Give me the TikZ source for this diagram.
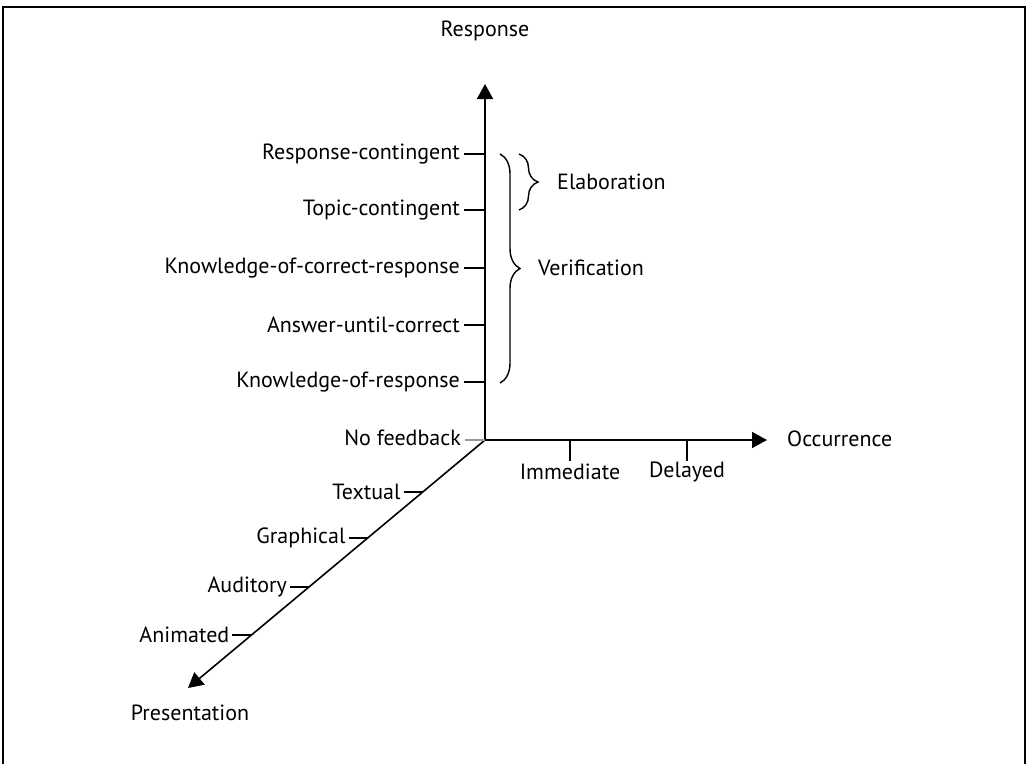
\documentclass[tikz,border=0pt]{standalone}
\usepackage{fontspec}
\setmainfont{PT Sans}
\usetikzlibrary{arrows.meta,decorations.pathreplacing,calc}
\begin{document}
\begin{tikzpicture}[x=1pt,y=-1pt,
  axis/.style={line width=1.6pt,-{Triangle[length=15pt,width=16pt]}},
  tickline/.style={line width=1.6pt},
  greytick/.style={line width=1.6pt,draw=black!40},
  lab/.style={font=\fontsize{22}{26}\selectfont,inner sep=0pt},
  bracepath/.style={line width=1.4pt,decorate},
  frameline/.style={line width=2pt}]
\useasboundingbox (0,0) rectangle (1027,763);
\draw[frameline] (3,770) -- (3,7) -- (1025,7) -- (1025,770);
% axes
\coordinate (O) at (485,440);
\coordinate (ytip) at (485,84);
\coordinate (xtip) at (767,440);
\coordinate (ztip) at (188,688);
\draw[axis] (O) -- (ytip);
\draw[axis] (O) -- (xtip);
\draw[axis] (O) -- (ztip);
\node[lab] (ylab) at (485,31) {Response};
\node[lab,anchor=west] (xlab) at (787,439) {Occurrence};
\node[lab] (zlab) at (190,713) {Presentation};
% response ticks
\foreach \y/\t/\n in {154/Response-contingent/r1,210/Topic-contingent/r2,268/Knowledge-of-correct-response/r3,325/Answer-until-correct/r4,382/Knowledge-of-response/r5}{
  \coordinate (\n a) at (485,\y);
  \coordinate (\n b) at (464,\y);
  \draw[tickline] (\n a) -- (\n b);
  \node[lab,anchor=east] (\n) at (460,\y) {\t};
}
\coordinate (r0b) at (465,440);
\draw[greytick] (O) -- (r0b);
\node[lab,anchor=east] (r0) at (461,438) {No feedback};
% occurrence ticks
\foreach \x/\t/\n in {570/Immediate/o1,687/Delayed/o2}{
  \coordinate (\n a) at (\x,440);
  \coordinate (\n b) at (\x,461);
  \draw[tickline] (\n a) -- (\n b);
  \node[lab] (\n) at (\x,472) {\t};
}
% presentation ticks
\foreach \y/\t/\n in {492/Textual/p1,538/Graphical/p2,587/Auditory/p3,635/Animated/p4}{
  \coordinate (\n a) at ($(O)!{(\y-440)/248}!(ztip)$);
  \coordinate (\n b) at ($(\n a)+(-19,0)$);
  \draw[tickline] (\n a) -- (\n b);
  \node[lab,anchor=east] (\n) at ($(\n b)+(-3,0)$) {\t};
}
% braces
\coordinate (vtop) at (500,154);
\coordinate (vbot) at (500,383);
\draw[bracepath,decoration={brace,amplitude=20pt}] (vtop) -- (vbot);
\node[lab,anchor=west] (ver) at (538,268) {Verification};
\coordinate (etop) at (519,154);
\coordinate (ebot) at (519,210);
\draw[bracepath,decoration={brace,amplitude=19pt}] (etop) -- (ebot);
\node[lab,anchor=west] (ela) at (557,182) {Elaboration};
\end{tikzpicture}
\end{document}
